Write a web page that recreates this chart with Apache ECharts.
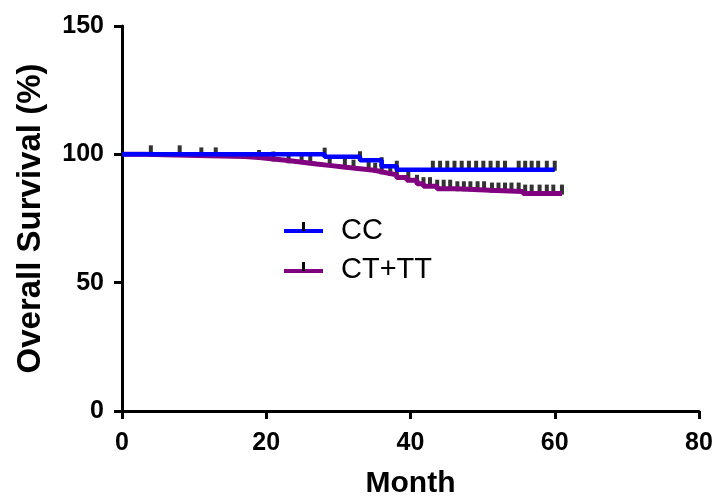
<!DOCTYPE html>
<html>
<head>
<meta charset="utf-8">
<script src="https://cdn.jsdelivr.net/npm/echarts@6/dist/echarts.min.js"></script>
<style>html,body{margin:0;padding:0;background:#fff;}#c{width:716px;height:498px;}</style>
</head>
<body>
<div id="c"></div>
<script>
// ---- data ----
const seriesNames = ['CC', 'CT+TT'];
const xTicks = [0, 20, 40, 60, 80];
const yTicks = [0, 50, 100, 150];
// Kaplan-Meier step points [month, survival %]
const ccTimes = [0, 28.1, 33, 36, 38.1, 60];
const ccSurv  = [100, 99.1, 97.7, 95.4, 94.0, 94.0];
const ctTimes = [0, 3, 9, 17, 19, 21, 23, 25, 27, 29, 31, 33, 35, 36, 37, 38.1, 39.5, 40.9, 41.8, 43.7, 46.5, 51, 55.6, 61];
const ctSurv  = [100, 99.6, 99.2, 98.8, 98.2, 97.6, 96.9, 96.2, 95.6, 95.0, 94.4, 93.8, 93.2, 92.6, 92.0, 91.0, 89.9, 88.5, 87.6, 86.6, 86.0, 85.5, 84.7, 84.7];
// censoring times
const ccCensor = [4, 8, 28.1, 33, 36, 38.1, 43.1, 44.1, 45.1, 46.1, 47.1, 48.1, 49.1, 50.1, 51.1, 52.1, 53.1, 55, 55.9, 56.8, 57.7, 58.9, 60];
const ctCensor = [11, 13, 19, 21, 23.1, 24.9, 26.1, 28.8, 30.9, 32.1, 34.2, 35.1, 36, 37.2, 38.1, 39.7, 40.9, 41.8, 42.7, 43.7, 44.6, 45.5, 46.5, 47.4, 48.3, 49.3, 50.2, 51.3, 52.2, 53.1, 54, 55, 55.9, 56.8, 57.9, 58.9, 59.8, 61];

const colors = ['#0000ff', '#800080'];
const FONT = "'Liberation Sans', Arial, sans-serif";

function pairs(t, s) { return t.map((x, i) => [x, s[i]]); }
function survAt(t, s, x) {
  let v = s[0];
  for (let i = 0; i < t.length; i++) { if (t[i] <= x) v = s[i]; }
  return v;
}
function censorPts(ct, t, s) { return ct.map(x => [x, survAt(t, s, x)]); }

const chart = echarts.init(document.getElementById('c'), null, {renderer: 'canvas'});
const axisCommon = {
  axisLine: {show: true, lineStyle: {color: '#000', width: 3}},
  axisTick: {show: true, inside: false, length: 8, lineStyle: {color: '#000', width: 3}},
  splitLine: {show: false},
  axisLabel: {color: '#000', fontFamily: FONT, fontWeight: 'bold', fontSize: 25},
  nameTextStyle: {color: '#000', fontFamily: FONT, fontWeight: 'bold', fontSize: 30}
};
chart.setOption({
  animation: false,
  backgroundColor: '#fff',
  grid: {left: 122, right: 17, top: 26, bottom: 87, containLabel: false, outerBoundsMode: 'none'},
  xAxis: Object.assign({}, axisCommon, {
    type: 'value', min: xTicks[0], max: xTicks[xTicks.length - 1], interval: 20,
    name: 'Month', nameLocation: 'middle', nameGap: 58,
    axisLabel: Object.assign({}, axisCommon.axisLabel, {margin: 20})
  }),
  yAxis: Object.assign({}, axisCommon, {
    type: 'value', min: yTicks[0], max: yTicks[yTicks.length - 1], interval: 50,
    name: 'Overall Survival (%)', nameLocation: 'middle', nameGap: 75, nameRotate: 90,
    nameTextStyle: Object.assign({}, axisCommon.nameTextStyle, {fontSize: 33}),
    axisLabel: Object.assign({}, axisCommon.axisLabel, {margin: 18})
  }),
  series: [
    {type: 'scatter', name: seriesNames[0] + ' censored', data: censorPts(ccCensor, ccTimes, ccSurv),
     symbol: 'rect', symbolSize: [4, 10], symbolOffset: [0, -4], itemStyle: {color: '#000'}, z: 1, silent: true},
    {type: 'scatter', name: seriesNames[1] + ' censored', data: censorPts(ctCensor, ctTimes, ctSurv),
     symbol: 'rect', symbolSize: [4, 10], symbolOffset: [0, -4], itemStyle: {color: '#000'}, z: 1, silent: true},
    {type: 'line', name: seriesNames[1], data: pairs(ctTimes, ctSurv), step: 'end', showSymbol: false,
     lineStyle: {color: colors[1], width: 5}, z: 2},
    {type: 'line', name: seriesNames[0], data: pairs(ccTimes, ccSurv), step: 'end', showSymbol: false,
     lineStyle: {color: colors[0], width: 4.5}, z: 3}
  ],
  graphic: [
    {type: 'line', shape: {x1: 284, y1: 231, x2: 323, y2: 231}, style: {stroke: colors[0], lineWidth: 4}},
    {type: 'rect', shape: {x: 302, y: 222, width: 3, height: 9}, style: {fill: '#000'}},
    {type: 'text', left: 341, top: 216, style: {text: seriesNames[0], fill: '#000', font: "29px 'Liberation Sans', Arial, sans-serif"}},
    {type: 'line', shape: {x1: 284, y1: 271, x2: 323, y2: 271}, style: {stroke: colors[1], lineWidth: 4}},
    {type: 'rect', shape: {x: 302, y: 262, width: 3, height: 9}, style: {fill: '#000'}},
    {type: 'text', left: 341, top: 255, style: {text: seriesNames[1], fill: '#000', font: "29px 'Liberation Sans', Arial, sans-serif"}}
  ]
});
</script>
</body>
</html>
